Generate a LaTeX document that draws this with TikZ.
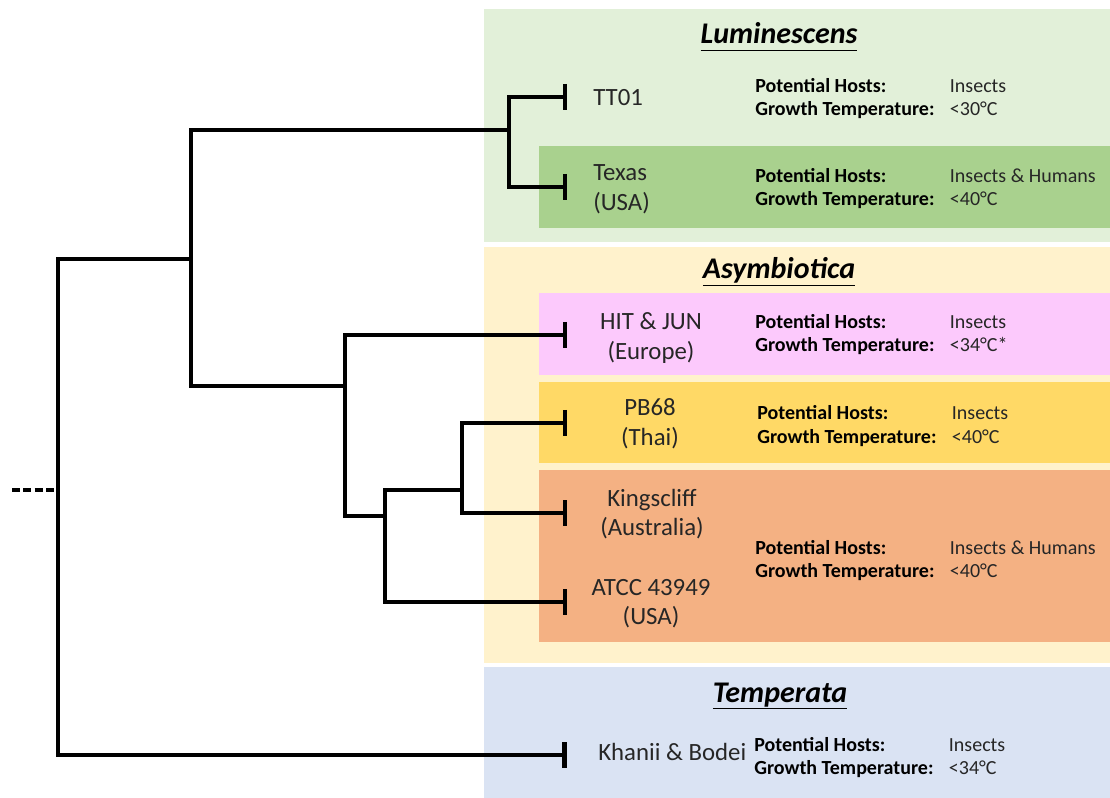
\documentclass[tikz,border=0pt]{standalone}
\usepackage{fontspec}
\setmainfont{Carlito}
\usetikzlibrary{arrows.meta}
\definecolor{lumbg}{HTML}{E2F0D9}
\definecolor{texbox}{HTML}{A9D18E}
\definecolor{asybg}{HTML}{FFF2CC}
\definecolor{hitbox}{HTML}{FCC9FC}
\definecolor{pbbox}{HTML}{FFD966}
\definecolor{orbox}{HTML}{F4B183}
\definecolor{tembg}{HTML}{DAE3F3}
\definecolor{labtext}{HTML}{262626}
\newcommand\twoL[2]{\begin{tabular}[t]{@{}l@{}}#1\\#2\end{tabular}}
\newcommand\twoC[2]{\begin{tabular}[t]{@{}c@{}}#1\\#2\end{tabular}}
\newcommand\infotab[2]{\begin{tabular}[t]{@{}p{146pt}@{}l@{}}\textbf{\color{black}Potential Hosts:}&#1\\\textbf{\color{black}Growth Temperature:}&#2\end{tabular}}
\tikzset{
  bgbox/.style={fill=#1, draw=none},
  branch/.style={line width=2.7pt, line join=miter},
  trunk/.style={line width=3.4pt, line join=miter},
  tip/.style={-{Bar[width=19.5pt]}},
  strain/.style={inner sep=0pt, text=labtext, font=\fontsize{18.6pt}{22pt}\selectfont},
  info/.style={inner sep=0pt, text=labtext, anchor=base west, font=\fontsize{15pt}{17.25pt}\selectfont},
  grouptitle/.style={inner sep=0pt, anchor=base, font=\fontsize{22.5pt}{26pt}\selectfont\bfseries\itshape}
}
\begin{document}
\begin{tikzpicture}[x=0.75pt,y=-0.75pt]
\useasboundingbox (0,0) rectangle (1110,798);
% background panels
\fill[bgbox=lumbg] (484,9) rectangle (1110,242);
\fill[bgbox=texbox] (539,146) rectangle (1110,228);
\fill[bgbox=asybg] (484,247) rectangle (1110,663);
\fill[bgbox=hitbox] (539,293) rectangle (1110,375);
\fill[bgbox=pbbox] (539,382) rectangle (1110,463);
\fill[bgbox=orbox] (539,470) rectangle (1110,642);
\fill[bgbox=tembg] (484,667) rectangle (1110,798);
% titles
\node[grouptitle] (tLum) at (779,44) {\underline{\vphantom{y}Luminescens}};
\node[grouptitle] (tAsy) at (779,279) {\underline{\vphantom{y}Asymbiotica}};
\node[grouptitle] (tTem) at (780,702) {\underline{\vphantom{y}Temperata}};
% tree coordinates
\coordinate (dstart) at (12,490);
\coordinate (root) at (58,490);
\coordinate (n1) at (191,259);
\coordinate (n2) at (509,130);
\coordinate (n3) at (345,386);
\coordinate (n4) at (385,516);
\coordinate (n5) at (462,490);
\coordinate (tt01) at (567,97);
\coordinate (texas) at (567,187);
\coordinate (hit) at (567,335);
\coordinate (pb68) at (567,423);
\coordinate (king) at (567,513);
\coordinate (atcc) at (567,602);
\coordinate (khan) at (567,755);
% tree
\draw[line width=3pt, dash pattern=on 6pt off 2.5pt] (dstart) -- (root);
\draw[trunk] (root) |- (n1);
\draw[trunk, tip] (root) |- (khan);
\draw[branch] (n1) |- (n2);
\draw[trunk] (n1) |- (n3);
\draw[branch, tip] (n2) |- (tt01);
\draw[branch, tip] (n2) |- (texas);
\draw[branch, tip] (n3) |- (hit);
\draw[trunk] (n3) |- (n4);
\draw[trunk] (n4) |- (n5);
\draw[branch, tip] (n4) |- (atcc);
\draw[branch, tip] (n5) |- (pb68);
\draw[branch, tip] (n5) |- (king);
% strain labels
\node[strain, anchor=base west] (lTT) at (593,106) {TT01};
\node[strain, anchor=base west] (lTex) at (593,181) {\twoL{Texas}{(USA)}};
\node[strain, anchor=base] (lHit) at (651,330) {\twoC{HIT \& JUN}{(Europe)}};
\node[strain, anchor=base] (lPb) at (650,416) {\twoC{PB68}{(Thai)}};
\node[strain, anchor=base] (lKing) at (652,506) {\twoC{Kingscliff}{(Australia)}};
\node[strain, anchor=base] (lAtcc) at (651,595) {\twoC{ATCC 43949}{(USA)}};
\node[strain, anchor=base west] (lKhan) at (598,760) {Khanii \& Bodei};
% info
\node[info] (iTT) at (755,93) {\infotab{Insects}{<30°C}};
\node[info] (iTex) at (755,183) {\infotab{Insects \& Humans}{<40°C}};
\node[info] (iHit) at (755,329) {\infotab{Insects}{<34°C*}};
\node[info] (iPb) at (757,420) {\infotab{Insects}{<40°C}};
\node[info] (iOr) at (755,554) {\infotab{Insects \& Humans}{<40°C}};
\node[info] (iKhan) at (754,751) {\infotab{Insects}{<34°C}};
\end{tikzpicture}
\end{document}
